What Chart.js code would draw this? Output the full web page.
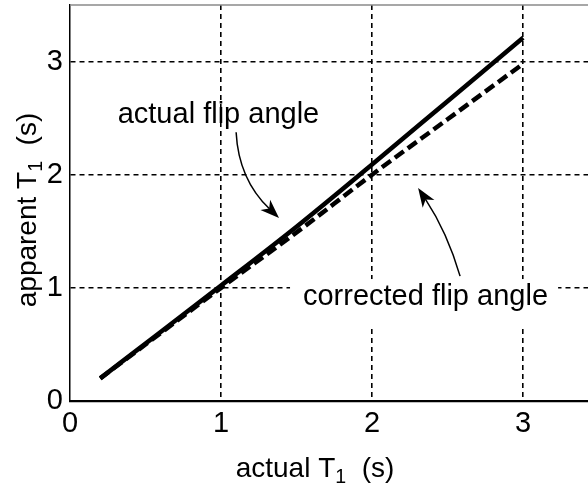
<!DOCTYPE html>
<html>
<head>
<meta charset="utf-8">
<script src="https://cdn.jsdelivr.net/npm/chart.js@4/dist/chart.umd.min.js"></script>
<style>
html,body{margin:0;padding:0;background:#fff}
canvas{display:block}
</style>
</head>
<body>
<canvas id="chart" width="588" height="493"></canvas>
<script>
/* ---------- DATA ---------- */
const actualT1 = [0.2, 0.6, 1.0, 1.5, 2.0, 2.5, 3.0];
const apparentActualFlip = [0.2, 0.61, 1.02, 1.54, 2.09, 2.65, 3.21];
const apparentCorrectedFlip = [0.2, 0.6, 1.0, 1.49, 2.0, 2.49, 2.98];
const xTicks = [0, 1, 2, 3];
const yTicks = [0, 1, 2, 3];

const FAMILY = '"Liberation Sans", Arial, Helvetica, sans-serif';
const font = s => `${s}px ${FAMILY}`;

/* ---------- DRAW HELPERS ---------- */
// text with a subscript part, centred on x, baseline y
function drawRun(ctx, parts, x, y, size){
  let w = 0;
  parts.forEach(([t, sub]) => { ctx.font = font(sub ? size*0.7 : size); w += ctx.measureText(t).width; });
  let cx = x - w/2;
  ctx.textAlign = "left";
  ctx.textBaseline = "alphabetic";
  parts.forEach(([t, sub]) => {
    ctx.font = font(sub ? size*0.7 : size);
    ctx.fillText(t, cx, sub ? y + size*0.2 : y);
    cx += ctx.measureText(t).width;
  });
}

// curved arrow: start, control, tip given in data units
function drawArrow(ctx, xs, ys, a){
  const p = (vx, vy) => [xs.getPixelForValue(vx), ys.getPixelForValue(vy)];
  const s = p(a[0], a[1]), c = p(a[2], a[3]), t = p(a[4], a[5]);
  const ang = Math.atan2(t[1]-c[1], t[0]-c[0]);
  const dx = Math.cos(ang), dy = Math.sin(ang);
  const len = 19, half = 7;
  ctx.save();
  ctx.strokeStyle = "#000";
  ctx.fillStyle = "#000";
  ctx.lineWidth = 1.5;
  ctx.beginPath();
  ctx.moveTo(s[0], s[1]);
  ctx.quadraticCurveTo(c[0], c[1], t[0]-dx*len*0.7, t[1]-dy*len*0.7);
  ctx.stroke();
  const bx = t[0]-dx*len, by = t[1]-dy*len;
  ctx.beginPath();
  ctx.moveTo(t[0], t[1]);
  ctx.lineTo(bx - dy*half, by + dx*half);
  ctx.lineTo(t[0]-dx*len*0.72, t[1]-dy*len*0.72);
  ctx.lineTo(bx + dy*half, by - dx*half);
  ctx.closePath();
  ctx.fill();
  ctx.restore();
}

/* ---------- ANNOTATIONS ---------- */
const notes = {
  id: "notes",
  beforeDatasetsDraw(chart){
    const {ctx, scales:{x, y}} = chart;
    // white panel under the lower label hides the grid
    const x0 = x.getPixelForValue(1.457), x1 = x.getPixelForValue(3.232);
    const y0 = y.getPixelForValue(1.078), y1 = y.getPixelForValue(0.654);
    ctx.save();
    ctx.fillStyle = "#fff";
    ctx.fillRect(x0, y0, x1-x0, y1-y0);
    ctx.restore();
  },
  afterDraw(chart){
    const {ctx, chartArea:a, scales:{x, y}} = chart;
    ctx.save();
    // top frame line
    ctx.strokeStyle = "#8a8a8a";
    ctx.lineWidth = 1.5;
    ctx.beginPath();
    ctx.moveTo(a.left, a.top);
    ctx.lineTo(a.right, a.top);
    ctx.stroke();

    ctx.fillStyle = "#000";
    ctx.textAlign = "center";
    ctx.textBaseline = "alphabetic";
    ctx.font = font(29);
    ctx.fillText("actual flip angle", x.getPixelForValue(0.983), y.getPixelForValue(2.456));
    ctx.fillText("corrected flip angle", x.getPixelForValue(2.354), y.getPixelForValue(0.848));

    drawArrow(ctx, x, y, [1.10, 2.376, 1.116, 1.961, 1.384, 1.617]);
    drawArrow(ctx, x, y, [2.583, 1.104, 2.497, 1.493, 2.305, 1.882]);

    // axis titles
    drawRun(ctx, [["actual T", 0], ["1", 1], ["  (s)", 0]], 315, 477, 28);
    ctx.translate(36, 210);
    ctx.rotate(-Math.PI/2);
    drawRun(ctx, [["apparent T", 0], ["1", 1], ["  (s)", 0]], 0, 0, 28);
    ctx.restore();
  }
};

/* ---------- CHART ---------- */
const gridColor = c => c.tick && c.tick.value === 0 ? "rgba(0,0,0,0)" : "#000";
const noPad = s => { s.paddingTop = 0; s.paddingBottom = 0; s.paddingLeft = 0; s.paddingRight = 0; };

new Chart(document.getElementById("chart"), {
  type: "scatter",
  data: {
    datasets: [
      {
        label: "actual flip angle",
        data: actualT1.map((v, i) => ({x: v, y: apparentActualFlip[i]})),
        showLine: true,
        borderColor: "#000",
        borderWidth: 4.5,
        pointRadius: 0,
        cubicInterpolationMode: "monotone"
      },
      {
        label: "corrected flip angle",
        data: actualT1.map((v, i) => ({x: v, y: apparentCorrectedFlip[i]})),
        showLine: true,
        borderColor: "#000",
        borderWidth: 4.5,
        borderDash: [11, 5],
        pointRadius: 0,
        cubicInterpolationMode: "monotone"
      }
    ]
  },
  options: {
    responsive: false,
    animation: false,
    layout: {padding: {top: 5, right: 0, left: 0, bottom: 0}},
    plugins: {legend: {display: false}, tooltip: {enabled: false}},
    scales: {
      x: {
        type: "linear", min: 0, max: 3.43,
        afterBuildTicks(s){ s.ticks = xTicks.map(v => ({value: v})); },
        afterFit(s){ s.height = 92; noPad(s); },
        ticks: {font: {family: FAMILY, size: 29, lineHeight: 1}, color: "#000", padding: 8, maxRotation: 0, autoSkip: false},
        grid: {color: gridColor, lineWidth: 1.6, drawTicks: false},
        border: {color: "#000", width: 2.2, dash: [5, 4]}
      },
      y: {
        type: "linear", min: 0, max: 3.5,
        afterBuildTicks(s){ s.ticks = yTicks.map(v => ({value: v})); },
        afterFit(s){ s.width = 70; noPad(s); },
        ticks: {font: {family: FAMILY, size: 29, lineHeight: 1}, color: "#000", padding: 7},
        grid: {color: gridColor, lineWidth: 1.6, drawTicks: false},
        border: {color: "#000", width: 1.5, dash: [5, 4]}
      }
    }
  },
  plugins: [notes]
});
</script>
</body>
</html>
